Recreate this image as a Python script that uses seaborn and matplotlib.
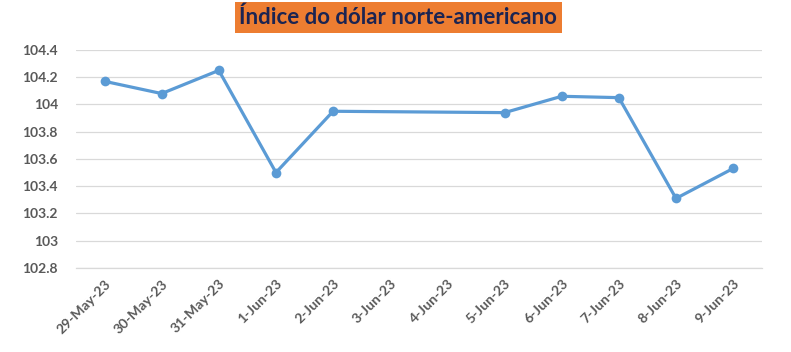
import numpy as np
import pandas as pd
import seaborn as sns
import matplotlib.pyplot as plt

sns.set_theme(style="white")
plt.rcParams['font.family'] = ['Lato', 'DejaVu Sans']

# todos os dias do eixo (fim de semana sem cotação)
dates = ["29-May-23", "30-May-23", "31-May-23", "1-Jun-23", "2-Jun-23", "3-Jun-23",
         "4-Jun-23", "5-Jun-23", "6-Jun-23", "7-Jun-23", "8-Jun-23", "9-Jun-23"]
values = [104.17, 104.08, 104.25, 103.50, 103.95, None,
          None, 103.94, 104.06, 104.05, 103.31, 103.53]
y_ticks = [102.8, 103.0, 103.2, 103.4, 103.6, 103.8, 104.0, 104.2, 104.4]
y_labels = ["102.8", "103", "103.2", "103.4", "103.6", "103.8", "104", "104.2", "104.4"]

df = pd.DataFrame({"date": dates, "dxy": values})
df["pos"] = range(len(dates))
df = df.dropna()

fig = plt.figure(figsize=(7.91, 3.52), dpi=100)
ax = fig.add_axes([0.096, 0.239, 0.867, 0.619])

blue = "#5B9BD5"
sns.lineplot(data=df, x="pos", y="dxy", ax=ax, color=blue, linewidth=2.3,
             marker="o", markersize=7, markeredgewidth=0)

ax.set_xlim(-0.5, len(dates) - 0.5)
ax.set_ylim(102.8, 104.4)
ax.set_yticks(y_ticks)
ax.set_yticklabels(y_labels)
ax.set_xticks(range(len(dates)))
ax.set_xticklabels(dates, rotation=45, ha="right", rotation_mode="anchor")
ax.set_xticks(np.arange(-0.5, len(dates)), minor=True)

ax.grid(axis="y", color="#D9D9D9", linewidth=0.9)
ax.set_axisbelow(True)
for s in ["top", "right", "left"]:
    ax.spines[s].set_visible(False)
ax.spines["bottom"].set_color("#D9D9D9")
ax.spines["bottom"].set_linewidth(0.9)

ax.tick_params(axis="x", which="major", length=0, pad=7, labelsize=10, labelcolor="#595959")
ax.tick_params(axis="x", which="minor", length=4, color="#D9D9D9", width=0.9)
ax.tick_params(axis="y", length=0, pad=13, labelsize=10, labelcolor="#595959")
for lab in ax.get_xticklabels() + ax.get_yticklabels():
    lab.set_fontweight("bold")
ax.set_xlabel("")
ax.set_ylabel("")

fig.text(0.5035, 0.95, "Índice do dólar norte-americano", ha="center", va="center",
         fontsize=16, fontweight="bold", color="#1B2452",
         bbox=dict(boxstyle="square,pad=0.2", facecolor="#ED7D31", edgecolor="none"))

fig.savefig("out.png", dpi=100, facecolor="white")
